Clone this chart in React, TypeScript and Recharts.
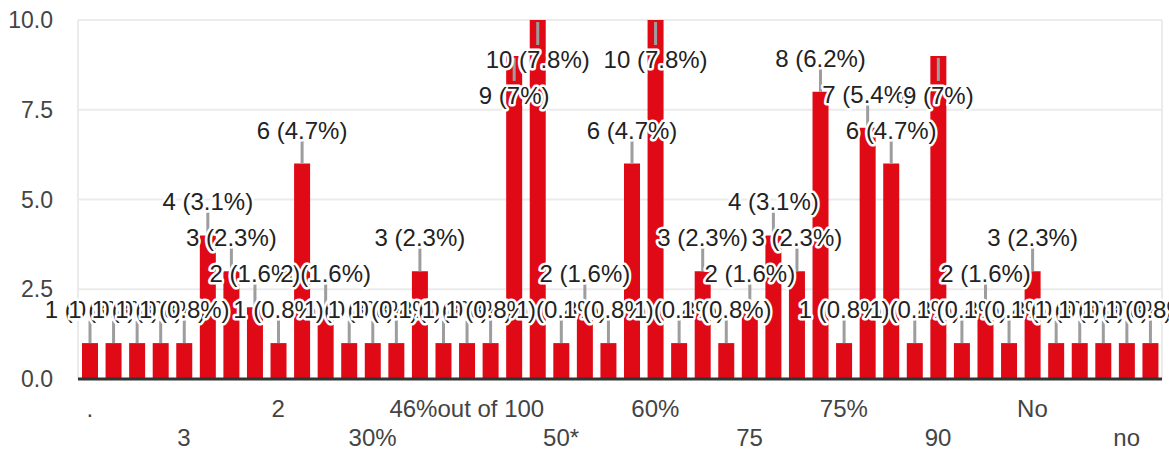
import React from 'react';
import { BarChart, Bar, XAxis, YAxis, CartesianGrid, LabelList } from 'recharts';

// answers as they appear on the x axis (only every 4th one gets a tick label)
const categories = [
  '.', '0', '1', '10', '3', '20%', '25%', '25', '2', '30', '35%', '40',
  '30%', '40%', '45%', '45', '46%out of 100', '48%', '50', '50%', '50*', '55',
  '55%', '60', '60%', '65', '65%', '70', '75', '70%', '80', '80%', '75%', '85',
  '85%', '90%', '90', '95', '95%', '100', 'No', '100%', 'Yes', 'N/A', 'no', 'yes',
];

const counts = [
  1, 1, 1, 1, 1, 4, 3, 2, 1, 6, 2, 1,
  1, 1, 3, 1, 1, 1, 9, 10, 1, 2,
  1, 6, 10, 1, 3, 1, 2, 4, 3, 8, 1, 7,
  6, 1, 9, 1, 2, 1, 3, 1, 1, 1, 1, 1,
];

const yTicks = [0, 2.5, 5, 7.5, 10];

const total = counts.reduce((a, b) => a + b, 0);
const pctText = (v: number) => `${v} (${Math.round((v / total) * 1000) / 10}%)`;

const data = categories.map((name, i) => ({ name, count: counts[i] }));

const PLOT_TOP = 20;
const FONT = '"Liberation Sans", Arial, sans-serif';

// label sits above the bar unless it would leave the panel, then it goes below the bar top
function labelCenter(barTop: number) {
  const above = barTop - 33;
  if (above - 12 < PLOT_TOP) return { cy: barTop + 40, below: true };
  return { cy: above, below: false };
}

function getBox(props: any) {
  const vb = props.viewBox && props.viewBox.width != null ? props.viewBox : props;
  return { x: Number(vb.x), y: Number(vb.y), width: Number(vb.width) };
}

const Leader = (props: any) => {
  const { x, y, width } = getBox(props);
  const cx = x + width / 2;
  const { cy, below } = labelCenter(y);
  const y2 = below ? cy - 15 : cy + 10;
  return <line x1={cx} x2={cx} y1={y + (below ? 2 : 0)} y2={y2} stroke="#9d9d9d" strokeWidth={3} />;
};

const CountLabel = (props: any) => {
  const { x, y, width } = getBox(props);
  const cx = x + width / 2;
  const { cy } = labelCenter(y);
  return (
    <text
      x={cx}
      y={cy + 8}
      textAnchor="middle"
      fontFamily={FONT}
      fontSize={24}
      fill="#222"
      stroke="#fff"
      strokeWidth={5}
      strokeLinejoin="round"
      paintOrder="stroke"
    >
      {pctText(Number(props.value))}
    </text>
  );
};

const XTick = (props: any) => {
  const { x, y, payload } = props;
  const idx = categories.indexOf(payload.value);
  const row = Math.floor(idx / 4) % 2;
  return (
    <text x={x} y={y + (row ? 67 : 38)} textAnchor="middle" fill="#444" fontSize={24} fontFamily={FONT}>
      {payload.value}
    </text>
  );
};

export default function App() {
  return (
    <div style={{ position: 'absolute', left: 0, top: 0, width: 1169, height: 452, background: '#fff' }}>
      <BarChart width={1169} height={452} data={data} margin={{ top: PLOT_TOP, right: 7, left: 0, bottom: 0 }}>
        <CartesianGrid
          stroke="#ebebeb"
          strokeWidth={2}
          verticalCoordinatesGenerator={({ offset }: any) => [offset.left, offset.left + offset.width]}
        />
        <XAxis
          dataKey="name"
          interval={3}
          tickLine={false}
          tickSize={0}
          tickMargin={0}
          axisLine={{ stroke: '#333', strokeWidth: 3 }}
          height={73}
          tick={<XTick />}
        />
        <YAxis
          domain={[0, 10]}
          ticks={yTicks}
          tickFormatter={(v: number) => v.toFixed(1)}
          axisLine={false}
          tickLine={false}
          tickSize={0}
          tickMargin={25}
          width={78}
          tick={{ fill: '#444', fontSize: 23, fontFamily: FONT }}
        />
        <Bar dataKey="count" fill="#e00a17" barSize={16} isAnimationActive={false}>
          <LabelList dataKey="count" content={<Leader />} />
          <LabelList dataKey="count" content={<CountLabel />} />
        </Bar>
      </BarChart>
    </div>
  );
}
